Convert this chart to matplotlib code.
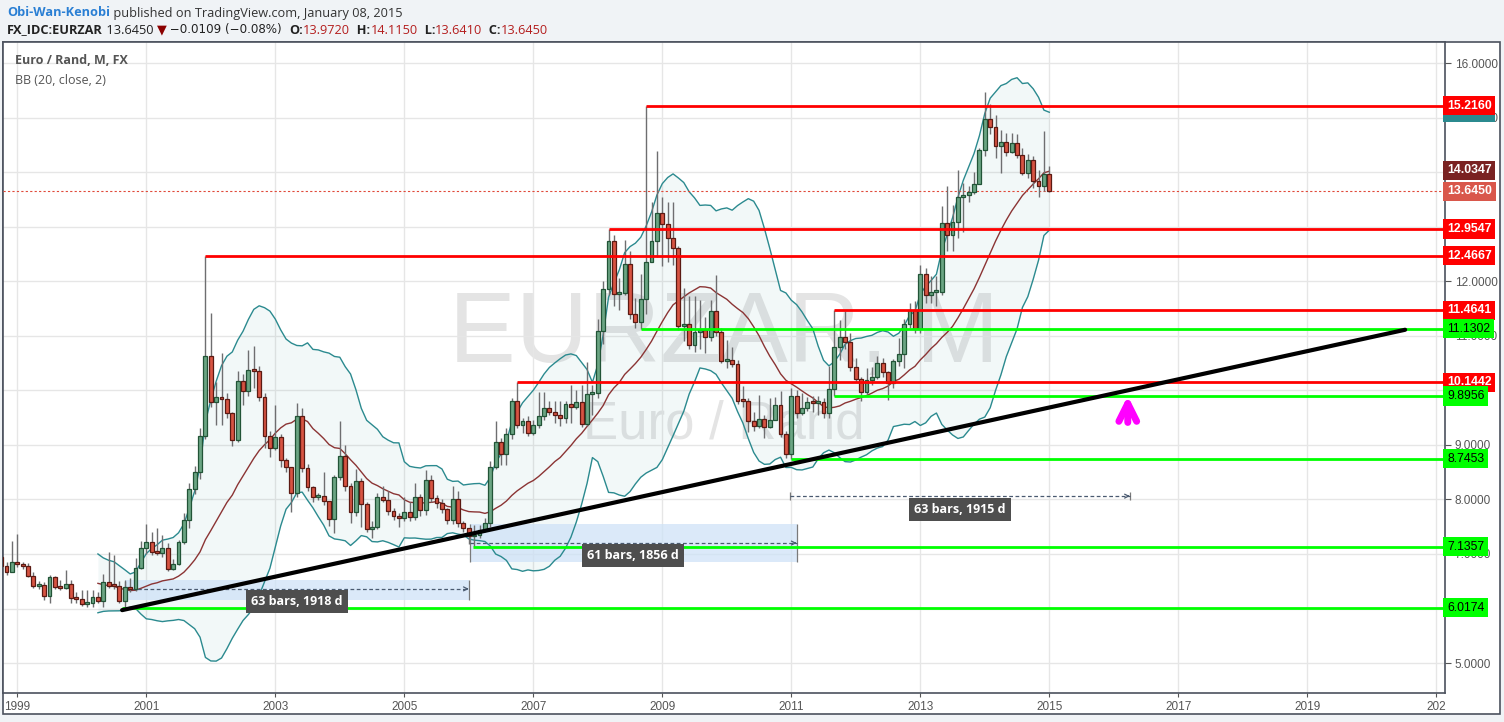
import numpy as np
import pandas as pd
import matplotlib
matplotlib.use("Agg")
import matplotlib.pyplot as plt
from matplotlib.patches import Rectangle

# EUR/ZAR monthly bars, Sep 1998 .. Jan 2015 (month index 0 = Jan 1999)
start_month = -4
first_open = 7.05

closes = [
    6.95, 6.78, 6.67, 6.86,                                                  # 1998 Sep-Dec
    6.81, 6.77, 6.60, 6.41, 6.44, 6.23, 6.57, 6.40, 6.38, 6.45, 6.19, 6.17,  # 1999
    6.08, 6.11, 6.21, 6.14, 6.48, 6.42, 6.41, 6.14, 6.39, 6.35, 6.74, 7.10,  # 2000
    7.21, 7.04, 7.02, 7.10, 6.72, 6.82, 7.21, 7.62, 8.19, 8.50, 9.17, 10.63,  # 2001
    9.79, 9.87, 9.84, 9.58, 9.08, 10.17, 9.98, 10.37, 10.36, 9.88, 9.17, 8.95,  # 2002
    9.14, 8.72, 8.59, 8.11, 9.52, 8.57, 8.23, 8.04, 8.06, 7.97, 7.64, 8.41,  # 2003
    8.80, 8.25, 7.76, 8.34, 7.91, 7.46, 7.49, 8.05, 7.99, 7.79, 7.70, 7.65,  # 2004
    7.76, 7.67, 8.05, 7.81, 8.36, 8.02, 7.93, 7.82, 7.62, 8.00, 7.57, 7.47,  # 2005
    7.32, 7.35, 7.43, 7.56, 8.59, 9.05, 8.83, 9.19, 9.81, 9.36, 9.43, 9.21,  # 2006
    9.36, 9.52, 9.67, 9.61, 9.54, 9.49, 9.74, 9.69, 9.78, 9.38, 9.93, 9.95,  # 2007
    11.08, 11.85, 12.74, 11.76, 11.78, 12.31, 11.39, 11.25, 11.67, 12.35, 12.74, 13.25,  # 2008
    13.04, 12.79, 12.60, 11.18, 11.21, 10.83, 11.06, 11.11, 10.97, 11.46, 11.07, 10.54,  # 2009
    10.55, 10.48, 9.81, 9.80, 9.44, 9.35, 9.47, 9.32, 9.46, 9.73, 9.20, 8.83,  # 2010
    9.90, 9.59, 9.68, 9.78, 9.76, 9.78, 9.58, 10.02, 10.80, 10.97, 10.88, 10.43,  # 2011
    10.20, 9.96, 10.19, 10.24, 10.50, 10.33, 10.13, 10.54, 10.66, 11.21, 11.48, 11.12,  # 2012
    12.13, 11.74, 11.80, 11.80, 13.06, 12.84, 13.08, 13.55, 13.58, 13.63, 13.79, 14.41,  # 2013
    14.97, 14.82, 14.48, 14.55, 14.37, 14.53, 14.31, 13.98, 14.23, 13.84, 13.75, 13.972,  # 2014
    13.645,                                                                  # 2015 Jan
]
highs = [
    7.10, 6.98, 6.85, 7.23,
    7.36, 6.85, 6.84, 6.66, 6.50, 6.48, 6.61, 6.60, 6.52, 6.71, 6.52, 6.30,
    6.34, 6.34, 6.34, 6.30, 6.64, 7.04, 6.98, 6.50, 6.50, 6.56, 6.93, 7.23,
    7.54, 7.40, 7.47, 7.35, 7.20, 6.90, 7.25, 7.75, 8.30, 8.62, 9.30, 12.4667,
    11.42, 10.16, 10.68, 9.95, 9.60, 10.35, 10.30, 10.74, 10.81, 10.45, 9.95, 9.25,
    9.73, 9.20, 8.75, 8.60, 9.76, 9.67, 8.65, 8.25, 8.12, 8.50, 7.95, 8.45,
    9.44, 9.00, 8.30, 8.55, 8.40, 7.95, 7.60, 8.12, 8.25, 8.16, 7.85, 7.75,
    8.05, 7.95, 8.30, 8.10, 8.54, 8.45, 8.08, 8.00, 7.85, 8.25, 8.15, 7.60,
    7.48, 7.53, 7.53, 7.65, 8.70, 9.43, 9.12, 9.30, 9.85, 10.1442, 9.50, 9.52,
    9.45, 9.96, 9.97, 9.80, 9.80, 9.80, 9.80, 10.10, 10.00, 10.10, 10.52, 10.10,
    11.30, 12.00, 12.9547, 12.85, 12.05, 12.75, 12.55, 11.70, 12.13, 15.2160, 13.45, 14.39,
    13.55, 13.46, 13.45, 12.65, 11.87, 11.72, 11.72, 11.66, 11.35, 11.65, 12.11, 11.15,
    10.92, 10.80, 10.55, 10.07, 9.85, 9.60, 9.91, 9.55, 9.85, 9.88, 9.98, 9.25,
    10.05, 10.01, 9.95, 9.88, 9.90, 9.90, 9.85, 10.45, 11.4641, 11.28, 11.46, 11.05,
    10.60, 10.25, 10.40, 10.42, 10.62, 10.60, 10.35, 10.58, 10.95, 11.30, 11.60, 11.63,
    12.30, 12.25, 12.10, 12.10, 13.37, 13.74, 13.40, 14.04, 13.80, 13.75, 14.00, 14.45,
    15.47, 15.25, 15.05, 14.77, 14.72, 14.71, 14.70, 14.44, 14.34, 14.30, 14.04, 14.75,
    14.115,
]
lows = [
    6.80, 6.65, 6.62, 6.66,
    6.76, 6.72, 6.58, 6.38, 6.35, 6.16, 6.10, 6.35, 6.34, 6.36, 6.10, 6.10,
    6.05, 6.02, 6.02, 6.10, 6.02, 6.38, 6.36, 6.10, 6.0174, 6.30, 6.33, 6.72,
    7.00, 6.98, 6.98, 6.95, 6.68, 6.70, 6.80, 7.18, 7.48, 8.10, 8.37, 9.10,
    9.70, 9.36, 9.36, 9.50, 8.98, 9.05, 9.73, 9.90, 10.05, 9.80, 8.94, 8.78,
    8.90, 8.60, 8.50, 7.77, 8.05, 8.50, 8.15, 7.95, 7.98, 7.90, 7.52, 7.38,
    8.35, 8.15, 7.56, 7.70, 7.50, 7.40, 7.29, 7.45, 7.95, 7.72, 7.62, 7.50,
    7.60, 7.60, 7.62, 7.70, 7.72, 7.95, 7.85, 7.75, 7.55, 7.55, 7.50, 7.40,
    7.19, 7.1357, 7.30, 7.40, 7.50, 8.55, 8.63, 8.63, 9.10, 9.30, 9.22, 9.16,
    9.18, 9.30, 9.45, 9.55, 9.40, 9.35, 9.40, 9.40, 9.65, 9.32, 9.35, 9.55,
    9.85, 10.85, 11.75, 11.55, 11.47, 11.75, 11.30, 11.15, 11.1302, 11.40, 12.39, 12.45,
    12.27, 12.35, 12.30, 11.10, 10.90, 10.75, 10.70, 10.75, 10.68, 10.90, 11.00, 10.50,
    10.40, 10.42, 9.75, 9.70, 9.24, 9.25, 9.30, 9.12, 9.30, 9.45, 9.15, 8.75,
    8.7453, 9.50, 9.55, 9.62, 9.60, 9.55, 9.50, 9.50, 9.8956, 10.55, 10.75, 10.35,
    10.15, 9.80, 9.90, 10.10, 10.20, 10.25, 9.82, 10.05, 10.45, 10.40, 11.15, 11.05,
    11.05, 11.60, 11.60, 11.55, 11.75, 12.55, 12.55, 12.80, 12.91, 13.45, 13.60, 13.80,
    14.30, 14.70, 14.25, 13.98, 14.30, 14.35, 14.25, 13.95, 13.90, 13.70, 13.55, 13.66,
    13.641,
]

# horizontal levels drawn by the author (value, first month index)
red_levels = [15.2160, 12.9547, 12.4667, 11.4641, 10.1442]
red_starts = [117, 110, 35, 152, 93]
green_levels = [11.1302, 9.8956, 8.7453, 7.1357, 6.0174]
green_starts = [116, 152, 144, 84.7, 19.5]

# trend line anchors (month index, price)
trend_x = [19.5, 258.2]
trend_y = [5.97, 11.11]

# date ranges
range_x0 = [20, 84.2, 143.7]
range_x1 = [84, 145, 207]
range_top = [6.52, 7.55, 8.06]
range_bot = [6.16, 6.85, 8.06]
range_mid = [6.36, 7.20, 8.06]
range_lab_y = [6.12, 6.98, 7.82]
range_text = ["63 bars, 1918 d", "61 bars, 1856 d", "63 bars, 1915 d"]

# magenta arrow
arrow_x = 206.6
arrow_y = [9.36, 9.95]

last_price = 13.645

# price scale: plain ticks that stay visible, and the coloured level labels
tick_vals = [5, 7, 8, 9, 11, 12, 15, 16]
scale_vals = [15.2160, 14.0347, 13.6450, 12.9547, 12.4667, 11.4641, 11.1302,
              10.1442, 9.8956, 8.7453, 7.1357, 6.0174]
scale_bg = ["#ff0000", "#7a2222", "#d9574b", "#ff0000", "#ff0000", "#ff0000",
            "#00ff00", "#ff0000", "#00ff00", "#00ff00", "#00ff00", "#00ff00"]

years = list(range(1999, 2022, 2))
year_labels = [str(y) for y in years[:-1]] + ["202"]

W, H = 1504, 722
fig = plt.figure(figsize=(W / 100, H / 100), dpi=100)
fig.patch.set_facecolor("#f0f3f6")

bg = fig.add_axes([0, 0, 1, 1])
bg.set_xlim(0, W)
bg.set_ylim(H, 0)
bg.axis("off")
bg.add_patch(Rectangle((3, 42), 1497, 672, fc="white", ec="#4c525e", lw=1.2))


def chain(pieces, x, y):
    txt, kw = pieces[0]
    prev = bg.text(x, y, txt, va="center", ha="left", fontsize=9.2,
                   family="Open Sans", **kw)
    for txt, kw in pieces[1:]:
        kw = dict(kw)
        kw.setdefault("family", "Open Sans")
        kw.setdefault("fontsize", 9.2)
        prev = bg.annotate(txt, xy=(1, 0.5), xycoords=prev, va="center",
                           ha="left", **kw)


red_txt = "#b41e1e"
chain([("Obi-Wan-Kenobi", dict(color="#2a7fd4", weight="bold")),
       (" published on TradingView.com, January 08, 2015", dict(color="#333333"))],
      7, 13)
chain([("FX_IDC:EURZAR", dict(color="#222222", weight="bold")),
       (" 13.6450 ", dict(color="#222222")),
       ("▼", dict(color="#8b0000", family="DejaVu Sans")),
       (" \u22120.0109 (\u22120.08%)  ", dict(color="#222222", family="DejaVu Sans", fontsize=8.6)),
       ("O:", dict(color="#222222", weight="bold")),
       ("13.9720", dict(color=red_txt)),
       ("  H:", dict(color="#222222", weight="bold")),
       ("14.1150", dict(color=red_txt)),
       ("  L:", dict(color="#222222", weight="bold")),
       ("13.6410", dict(color=red_txt)),
       ("  C:", dict(color="#222222", weight="bold")),
       ("13.6450", dict(color=red_txt))],
      7, 30)

# main price pane
ax = fig.add_axes([3 / W, 1 - 693 / H, 1442 / W, 651 / H])
ax.set_facecolor("white")
ax.set_xlim((3 - 17.3) / 5.375, (1445 - 17.3) / 5.375)
ax.set_ylim(4.451, 16.385)
for s in ax.spines.values():
    s.set_color("#4c525e")
    s.set_linewidth(1.2)

ax.set_axisbelow(True)
ax.set_yticks(np.arange(5, 17), minor=False)
ax.grid(True, color="#e6e6e6", lw=1)
ax.yaxis.tick_right()
ax.set_yticklabels([f"{v:.4f}" if v in tick_vals else "" for v in np.arange(5, 17)],
                   family="Liberation Sans")
ax.tick_params(axis="y", length=4, pad=3, labelsize=8.5, colors="#555555")
ax.set_xticks([(y - 1999) * 12 for y in years])
ax.set_xticklabels(year_labels, family="Liberation Sans")
ax.tick_params(axis="x", length=3, pad=3, labelsize=8.5, colors="#555555")

# watermark and legend
ax.text(0.5, 0.548, "EURZAR, M", transform=ax.transAxes, ha="center", va="center",
        fontsize=72, color="#e4e4e4", family="Liberation Sans", zorder=0.5)
ax.text(0.5, 0.412, "Euro / Rand", transform=ax.transAxes, ha="center", va="center",
        fontsize=38, color="#e4e4e4", family="Liberation Sans", zorder=0.5)
ax.text(12 / 1442, 1 - 18 / 651, "Euro / Rand, M, FX", transform=ax.transAxes,
        ha="left", va="center", fontsize=9, color="#555555", weight="bold",
        family="Open Sans")
ax.text(12 / 1442, 1 - 38 / 651, "BB (20, close, 2)", transform=ax.transAxes,
        ha="left", va="center", fontsize=9, color="#555555", family="Open Sans")

c = np.array(closes)
h = np.array(highs)
lo = np.array(lows)
o = np.concatenate([[first_open], c[:-1]])
m = np.arange(len(c)) + start_month

# Bollinger bands (20, close, 2)
cs = pd.Series(c)
basis = cs.rolling(20).mean()
dev = cs.rolling(20).std(ddof=0)
upper = basis + 2 * dev
lower = basis - 2 * dev
ok = basis.notna().values
ax.fill_between(m[ok], lower[ok], upper[ok], color="#2b8a8f", alpha=0.06, lw=0, zorder=1)
ax.plot(m[ok], upper[ok], color="#2b8a8f", lw=1, zorder=2)
ax.plot(m[ok], lower[ok], color="#2b8a8f", lw=1, zorder=2)
ax.plot(m[ok], basis[ok], color="#8b3434", lw=1, zorder=2)

# date ranges
for x0, x1, yt, yb, ym, yl, t in zip(range_x0, range_x1, range_top, range_bot,
                                      range_mid, range_lab_y, range_text):
    if yt > yb:
        ax.add_patch(Rectangle((x0, yb), x1 - x0, yt - yb, fc="#cfe2f7", ec="none",
                               alpha=0.75, zorder=1.5))
        ax.vlines([x0, x1], yb, yt, color="#7a7a7a", lw=0.9, zorder=2.5)
    else:
        ax.vlines([x0, x1], ym - 0.08, ym + 0.08, color="#7a7a7a", lw=0.9, zorder=2.5)
    ax.plot([x0, x1], [ym, ym], color="#4a5a70", lw=0.9, ls=(0, (3, 2)), zorder=2.6)
    ax.annotate("", xy=(x1, ym), xytext=(x1 - 1.0, ym),
                arrowprops=dict(arrowstyle="->", color="#4a5a70", lw=0.9,
                                mutation_scale=7), zorder=2.6)
    ax.text((x0 + x1) / 2, yl, t, ha="center", va="center", color="white",
            fontsize=9, weight="bold", family="Open Sans", zorder=6,
            bbox=dict(boxstyle="square,pad=0.4", fc="#4e4e4e", ec="none"))

# candles
ax.vlines(m, lo, h, color="#6e6e70", lw=1, zorder=3)
up = c >= o
body_low = np.minimum(o, c)
body_h = np.maximum(np.abs(c - o), 0.035)
ax.bar(m[up], body_h[up], bottom=body_low[up], width=0.72, color="#6ba583",
       edgecolor="#225437", lw=0.9, zorder=3.5)
ax.bar(m[~up], body_h[~up], bottom=body_low[~up], width=0.72, color="#d75442",
       edgecolor="#5b1a13", lw=0.9, zorder=3.5)

# last price line
ax.axhline(last_price, color="#e04a3a", lw=0.8, ls=(0, (2, 2)), zorder=2.7)

# levels
xmax = ax.get_xlim()[1]
for v, s0 in zip(red_levels, red_starts):
    ax.plot([s0, xmax], [v, v], color="#ff0000", lw=2, zorder=4, solid_capstyle="butt")
for v, s0 in zip(green_levels, green_starts):
    ax.plot([s0, xmax], [v, v], color="#00ff00", lw=2, zorder=4, solid_capstyle="butt")

# trend line
ax.plot(trend_x, trend_y, color="black", lw=3, zorder=4.5, solid_capstyle="round")

# arrow
ax.annotate("", xy=(arrow_x, arrow_y[1]), xytext=(arrow_x, arrow_y[0]),
            arrowprops=dict(arrowstyle="->", color="#ff00ff", lw=5,
                            mutation_scale=32), zorder=5)

# price scale labels
tr = ax.get_yaxis_transform()
xl = 1 + 2 / 1442
ax.text(xl, upper.iloc[-1], f"{upper.iloc[-1]:.4f}", transform=tr, ha="left",
        va="center", fontsize=8.8, color="white", weight="bold",
        family="Liberation Sans", clip_on=False, zorder=6,
        bbox=dict(boxstyle="square,pad=0.3", fc="#2b8a8f", ec="none"))
for v, b in zip(scale_vals, scale_bg):
    fg = "black" if b == "#00ff00" else "white"
    ax.text(xl, v, f"{v:.4f}", transform=tr, ha="left", va="center", fontsize=8.8,
            color=fg, weight="normal" if fg == "black" else "bold",
            family="Liberation Sans", clip_on=False, zorder=7,
            bbox=dict(boxstyle="square,pad=0.3", fc=b, ec="none"))

fig.savefig("out.png", dpi=100, facecolor=fig.get_facecolor())
